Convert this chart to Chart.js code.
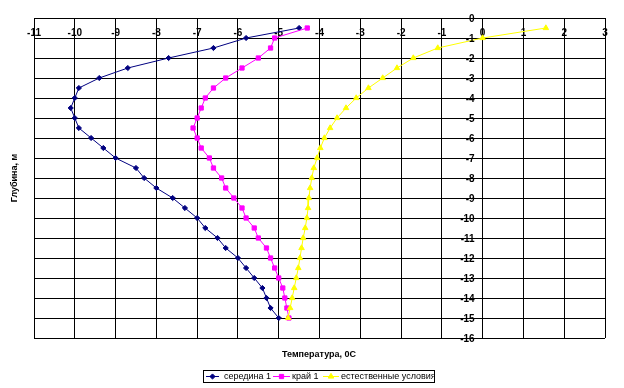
<!DOCTYPE html>
<html><head><meta charset="utf-8">
<script src="https://cdn.jsdelivr.net/npm/chart.js@4"></script>
<style>html,body{margin:0;padding:0;background:#fff;}#wrap{width:624px;height:388px;position:relative;}</style>
</head><body><div id="wrap"><canvas id="c"></canvas></div>
<script>
const depths = [-0.5,-1,-1.5,-2,-2.5,-3,-3.5,-4,-4.5,-5,-5.5,-6,-6.5,-7,-7.5,-8,-8.5,-9,-9.5,-10,-10.5,-11,-11.5,-12,-12.5,-13,-13.5,-14,-14.5,-15];
const seredina = [-4.5,-5.8,-6.6,-7.7,-8.7,-9.4,-9.9,-10.0,-10.1,-10.0,-9.9,-9.6,-9.3,-9.0,-8.5,-8.3,-8.0,-7.6,-7.3,-7.0,-6.8,-6.5,-6.3,-6.0,-5.8,-5.6,-5.4,-5.3,-5.2,-5.0];
const krai = [-4.3,-5.1,-5.2,-5.5,-5.9,-6.3,-6.6,-6.8,-6.9,-7.0,-7.1,-7.0,-6.9,-6.7,-6.6,-6.4,-6.3,-6.1,-5.9,-5.8,-5.6,-5.5,-5.3,-5.2,-5.1,-5.0,-4.9,-4.85,-4.8,-4.75];
const estest = [1.55,0.0,-1.1,-1.7,-2.1,-2.45,-2.8,-3.1,-3.35,-3.57,-3.74,-3.88,-3.98,-4.06,-4.14,-4.19,-4.23,-4.26,-4.28,-4.31,-4.35,-4.4,-4.44,-4.48,-4.52,-4.57,-4.62,-4.67,-4.72,-4.77];
const seriesNames = ['середина 1','край 1','естественные условия'];
const xTitle = 'Температура, 0С';
const yTitle = 'Глубина, м';

const toPts = vals => vals.map((v,i)=>({x:v,y:depths[i]}));
const colors = ['#000080','#FF00FF','#FFFF00'];
const styles = ['rectRot','rect','triangle'];
const radii = [2.6,3,3.2];
const tickFont = 'bold 10px "Liberation Sans", Arial, sans-serif';

const decor = {
  id:'decor',
  afterDraw(chart){
    const ctx = chart.ctx;
    const xs = chart.scales.x, ys = chart.scales.y;
    ctx.save();
    // y tick labels drawn at the x=0 axis line
    ctx.fillStyle = '#000';
    ctx.font = tickFont;
    ctx.textAlign = 'right'; ctx.textBaseline = 'middle';
    const x0 = xs.getPixelForValue(0);
    ys.ticks.forEach(t=>{
      ctx.fillText(String(t.value), x0 - 8, ys.getPixelForValue(t.value) + 1.5);
    });
    ctx.font = 'bold 9px "Liberation Sans", Arial, sans-serif';
    ctx.textAlign = 'center'; ctx.textBaseline = 'middle';
    ctx.fillText(xTitle, 319, 355);
    ctx.save();
    ctx.translate(15,178); ctx.rotate(-Math.PI/2);
    ctx.fillText(yTitle, 0, 0);
    ctx.restore();
    // legend box
    ctx.strokeStyle = '#000'; ctx.lineWidth = 1;
    ctx.strokeRect(203.5, 370.5, 231, 12);
    const items = [{x0:206,x1:219,tx:224},{x0:273,x1:290,tx:292},{x0:323,x1:339,tx:341}];
    ctx.font = '9px "Liberation Sans", Arial, sans-serif';
    ctx.textAlign = 'left';
    items.forEach((it,i)=>{
      ctx.strokeStyle = colors[i]; ctx.lineWidth = 1;
      ctx.beginPath(); ctx.moveTo(it.x0,376.5); ctx.lineTo(it.x1,376.5); ctx.stroke();
      ctx.fillStyle = colors[i];
      Chart.helpers.drawPoint(ctx,{pointStyle:styles[i],radius:radii[i],borderWidth:1},(it.x0+it.x1)/2,376.5);
      ctx.fillStyle = '#000';
      ctx.fillText(seriesNames[i], it.tx, 377);
    });
    ctx.restore();
  }
};

const ds = [seredina,krai,estest].map((vals,i)=>({
  label: seriesNames[i],
  data: toPts(vals),
  showLine: true,
  borderColor: colors[i],
  backgroundColor: colors[i],
  borderWidth: 1,
  pointStyle: styles[i],
  pointRadius: radii[i],
  pointBorderWidth: 1,
  pointBorderColor: colors[i],
  pointBackgroundColor: colors[i],
  tension: 0,
  order: 2-i
}));

new Chart(document.getElementById('c'),{
  type:'scatter',
  data:{datasets:ds},
  options:{
    responsive:true, maintainAspectRatio:false, animation:false,
    layout:{padding:{left:34,right:19,top:18,bottom:50}},
    plugins:{legend:{display:false},tooltip:{enabled:false}},
    scales:{
      x:{type:'linear',min:-11,max:3,position:{y:0},
        ticks:{stepSize:1,color:'#000',padding:9,maxRotation:0,autoSkip:false,font:{family:'"Liberation Sans", Arial',size:10,weight:'bold'}},
        grid:{color:'#000',lineWidth:1,drawTicks:false},
        border:{color:'#000',width:1}},
      y:{type:'linear',min:-16,max:0,position:{x:0},
        ticks:{stepSize:1,display:false,autoSkip:false},
        grid:{color:'#000',lineWidth:1,drawTicks:false},
        border:{color:'#000',width:1}}
    }
  },
  plugins:[decor]
});
</script></body></html>
